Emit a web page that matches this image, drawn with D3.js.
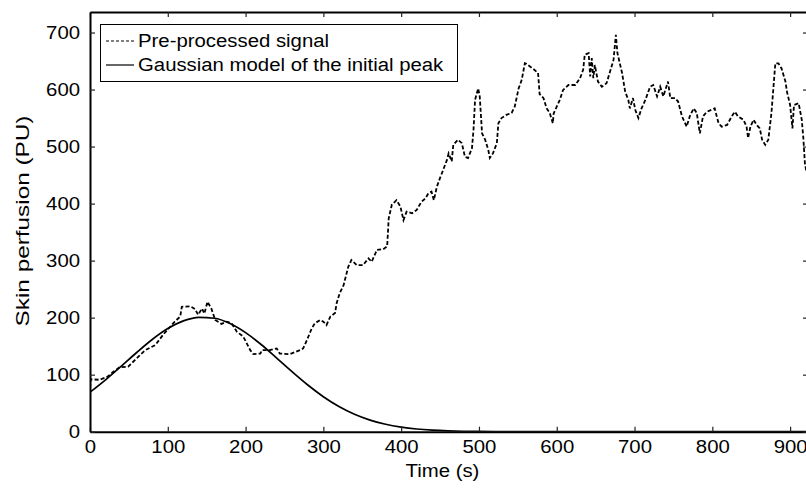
<!DOCTYPE html>
<html>
<head>
<meta charset="utf-8">
<script src="https://cdn.jsdelivr.net/npm/d3@7/dist/d3.min.js"></script>
<style>
  html, body { margin: 0; padding: 0; background: #fff; }
  svg { display: block; }
  text { font-family: "Liberation Sans", Arial, Helvetica, sans-serif; fill: #000; }
</style>
</head>
<body>
<svg id="chart" width="806" height="490"></svg>
<script>
// ---------- data ----------
const signalTime = [0,1,12,22,30,38,49,58,71,84,94,101,109,116,118,129,135,139,144,147,151,156,161,169,176,182,189,197,206,210,219,221,231,240,244,257,270,274,279,285,289,296,300,304,309,315,317,321,326,332,336,343,351,358,362,369,377,382,384,388,394,399,403,407,414,420,426,431,435,439,442,446,450,454,459,461,465,467,473,478,482,486,491,493,495,499,501,504,508,512,514,518,523,525,529,536,542,546,551,555,559,561,570,576,578,583,587,591,595,596,600,604,608,615,624,630,634,636,641,643,645,647,649,653,658,664,668,673,676,678,684,688,692,694,698,701,705,709,714,720,724,729,733,737,743,746,752,756,761,767,771,776,780,784,788,793,803,808,812,819,825,829,833,840,844,846,849,853,857,861,864,868,872,876,881,885,889,894,896,900,903,905,911,915,917,919,921];
const signalValue = [77,92,91,96,105,113,114,126,143,152,170,181,193,202,219,220,215,205,216,207,228,216,196,189,193,190,175,167,143,136,137,143,143,146,137,136,143,146,161,181,190,196,193,187,202,208,225,243,257,289,301,292,292,304,298,319,320,325,374,398,406,395,371,386,383,389,403,409,418,421,406,430,445,459,477,488,474,503,512,506,482,480,497,529,582,602,588,523,512,494,480,488,506,541,550,556,559,570,602,617,646,645,636,629,592,585,567,559,541,558,570,582,599,608,608,620,635,661,664,623,655,620,643,614,605,611,629,652,696,664,629,596,582,567,585,564,550,567,582,605,608,588,605,588,614,585,585,579,553,535,553,567,559,523,553,561,567,541,535,538,553,561,553,547,535,515,535,547,538,532,512,503,512,559,646,646,637,614,596,573,532,573,576,547,515,471,455];

const modelTime = [0,20,40,60,80,100,120,140,160,180,200,220,240,260,280,300,320,340,360,380,400,420,440,460,480,500,520,540,560,600,700,800,923];
const modelValue = [69.2,90.9,114.6,138.9,161.7,180.8,194.3,200.6,199.0,189.7,173.7,152.9,129.2,104.9,81.9,61.4,44.2,30.6,20.4,13.0,8.0,4.7,2.7,1.5,0.8,0.4,0.2,0.1,0,0,0,0,0];

const xTicks = [0,100,200,300,400,500,600,700,800,900];
const yTicks = [0,100,200,300,400,500,600,700];
const xDomain = [0, 923];
const yDomain = [0, 736];

const legendLabels = ["Pre-processed signal", "Gaussian model of the initial peak"];
const xLabel = "Time (s)";
const yLabel = "Skin perfusion (PU)";

// ---------- layout ----------
const svg = d3.select("#chart");
const L = 90, R = 808, T = 12, B = 431.7;
const STRETCH = 1.13;
const FONT = 18;

const x = d3.scaleLinear().domain(xDomain).range([L, R]);
const y = d3.scaleLinear().domain(yDomain).range([B, T]);

function stretch(sel, k) {
  sel.each(function () {
    const w = this.getComputedTextLength();
    d3.select(this).attr("textLength", w * k).attr("lengthAdjust", "spacingAndGlyphs");
  });
}

svg.append("defs").append("clipPath").attr("id", "plotclip")
  .append("rect").attr("x", L).attr("y", T).attr("width", R - L).attr("height", B - T);

// plot lines
const signal = signalTime.map((t, i) => [t, signalValue[i]]);
const model = modelTime.map((t, i) => [t, modelValue[i]]);

const gPlot = svg.append("g").attr("clip-path", "url(#plotclip)");
gPlot.append("path")
  .datum(model)
  .attr("fill", "none").attr("stroke", "#000").attr("stroke-width", 1.7)
  .attr("d", d3.line().x(d => x(d[0])).y(d => y(d[1])).curve(d3.curveMonotoneX));
gPlot.append("path")
  .datum(signal)
  .attr("fill", "none").attr("stroke", "#000").attr("stroke-width", 1.8)
  .attr("stroke-dasharray", "4,2.2")
  .attr("d", d3.line().x(d => x(d[0])).y(d => y(d[1])));

// axes
const tickLen = 5;
const axB = svg.append("g").attr("transform", `translate(0,${B})`)
  .call(d3.axisBottom(x).tickValues(xTicks).tickSizeInner(-tickLen).tickSizeOuter(0).tickPadding(9));
const axT = svg.append("g").attr("transform", `translate(0,${T})`)
  .call(d3.axisTop(x).tickValues(xTicks).tickSizeInner(-tickLen).tickSizeOuter(0).tickFormat(""));
const axL = svg.append("g").attr("transform", `translate(${L},0)`)
  .call(d3.axisLeft(y).tickValues(yTicks).tickSizeInner(-tickLen).tickSizeOuter(0).tickPadding(10));
const axR = svg.append("g").attr("transform", `translate(${R},0)`)
  .call(d3.axisRight(y).tickValues(yTicks).tickSizeInner(-tickLen).tickSizeOuter(0).tickFormat(""));

[axB, axT, axL, axR].forEach(a => {
  a.select(".domain").attr("stroke", "#000").attr("stroke-width", 2);
  a.selectAll(".tick line").attr("stroke", "#222").attr("stroke-width", 1.2);
  a.selectAll("text").attr("font-size", FONT).attr("font-family", '"Liberation Sans", Arial, sans-serif').attr("fill", "#000");
});
axB.selectAll(".tick text").attr("dy", "0.71em");
stretch(axB.selectAll(".tick text"), STRETCH);
stretch(axL.selectAll(".tick text"), STRETCH);

// axis labels
svg.append("text").attr("x", (L + 795) / 2).attr("y", 477)
  .attr("text-anchor", "middle").attr("font-size", FONT).text(xLabel)
  .call(stretch, STRETCH);
svg.append("text").attr("transform", `translate(29,221) rotate(-90)`)
  .attr("text-anchor", "middle").attr("font-size", 19).text(yLabel)
  .call(stretch, 1.28);

// legend
const lg = svg.append("g");
lg.append("rect").attr("x", 100.5).attr("y", 24.5).attr("width", 357).attr("height", 57)
  .attr("fill", "#fff").attr("stroke", "#000").attr("stroke-width", 1);
const rows = lg.selectAll("g.row").data(legendLabels).enter().append("g")
  .attr("transform", (d, i) => `translate(0,${41 + i * 24})`);
rows.append("line").attr("x1", 106).attr("x2", 134).attr("y1", 0).attr("y2", 0)
  .attr("stroke", "#000").attr("stroke-width", (d, i) => i === 0 ? 1 : 1.2)
  .attr("stroke-dasharray", (d, i) => i === 0 ? "3,2" : null);
rows.append("text").attr("x", 138).attr("y", 0).attr("dy", "0.35em")
  .attr("font-size", FONT).text(d => d)
  .call(stretch, STRETCH);
</script>
</body>
</html>
